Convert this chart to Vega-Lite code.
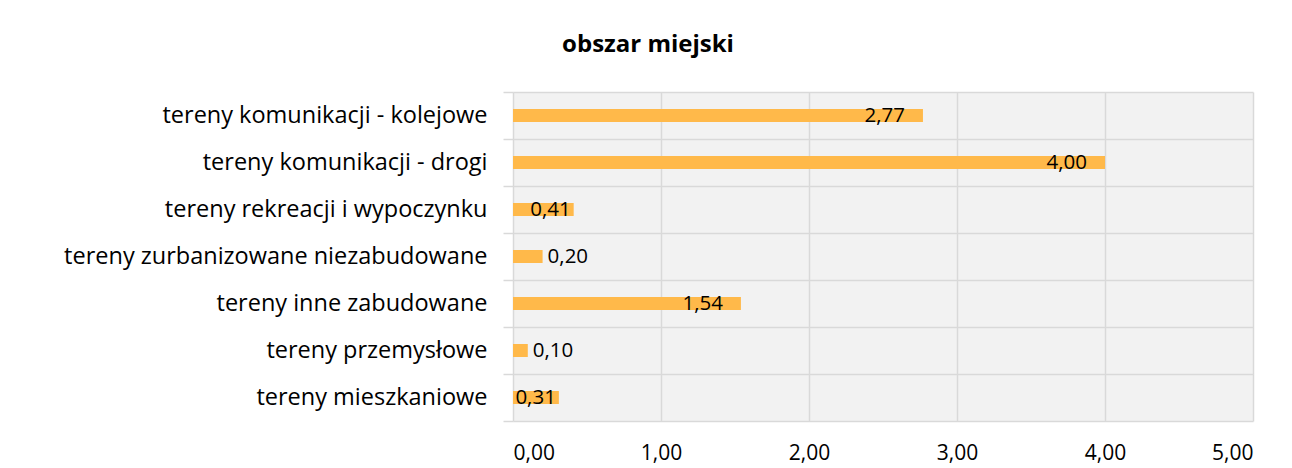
{
  "$schema": "https://vega.github.io/schema/vega-lite/v6.json",
  "width": 740,
  "height": 329,
  "autosize": {"type": "none"},
  "padding": {"left": 513, "top": 92, "right": 39, "bottom": 47},
  "background": "white",
  "title": {
    "text": "obszar miejski",
    "font": "Open Sans",
    "fontSize": 24,
    "fontWeight": "bold",
    "color": "#000000",
    "anchor": "middle",
    "dx": -235,
    "offset": 4,
    "baseline": "alphabetic"
  },
  "data": {
    "values": [
      {"category": "tereny komunikacji - kolejowe", "value": 2.77},
      {"category": "tereny komunikacji - drogi", "value": 4.00},
      {"category": "tereny rekreacji i wypoczynku", "value": 0.41},
      {"category": "tereny zurbanizowane niezabudowane", "value": 0.20},
      {"category": "tereny inne zabudowane", "value": 1.54},
      {"category": "tereny przemysłowe", "value": 0.10},
      {"category": "tereny mieszkaniowe", "value": 0.31}
    ]
  },
  "encoding": {
    "y": {
      "field": "category",
      "type": "nominal",
      "sort": null,
      "scale": {"paddingInner": 0, "paddingOuter": 0},
      "axis": {
        "title": null,
        "tickBand": "extent",
        "grid": true,
        "gridColor": "#D9D9D9",
        "gridWidth": 1.5,
        "ticks": true,
        "tickColor": "#D9D9D9",
        "tickSize": 10,
        "tickWidth": 1.5,
        "domain": false,
        "labelFont": "Open Sans",
        "labelFontSize": 23.5,
        "labelColor": "#000000",
        "labelPadding": 16,
        "labelLimit": 500
      }
    },
    "x": {
      "field": "value",
      "type": "quantitative",
      "scale": {"domain": [0, 5], "nice": false},
      "axis": {
        "title": null,
        "values": [0, 1, 2, 3, 4, 5],
        "format": ".2f",
        "grid": true,
        "gridColor": "#D9D9D9",
        "gridWidth": 1.5,
        "ticks": false,
        "domain": false,
        "labelFont": "Open Sans",
        "labelFontSize": 21,
        "labelColor": "#000000",
        "labelPadding": 21
      }
    }
  },
  "layer": [
    {"mark": {"type": "bar", "size": 13, "color": "#FFB94A"}},
    {
      "transform": [{"filter": "datum.value >= 1"}],
      "mark": {"type": "text", "align": "right", "baseline": "middle", "dx": -18, "font": "Open Sans", "fontSize": 20.5, "color": "#000000"},
      "encoding": {"text": {"field": "value", "type": "quantitative", "format": ".2f"}}
    },
    {
      "transform": [{"filter": "datum.value >= 0.3 && datum.value < 1"}],
      "mark": {"type": "text", "align": "right", "baseline": "middle", "dx": -3, "font": "Open Sans", "fontSize": 20.5, "color": "#000000"},
      "encoding": {"text": {"field": "value", "type": "quantitative", "format": ".2f"}}
    },
    {
      "transform": [{"filter": "datum.value < 0.3"}],
      "mark": {"type": "text", "align": "left", "baseline": "middle", "dx": 5, "font": "Open Sans", "fontSize": 20.5, "color": "#000000"},
      "encoding": {"text": {"field": "value", "type": "quantitative", "format": ".2f"}}
    }
  ],
  "config": {
    "view": {"fill": "#F2F2F2", "stroke": null},
    "locale": {
      "number": {"decimal": ",", "thousands": " ", "grouping": [3], "currency": ["", " zł"]}
    }
  }
}
